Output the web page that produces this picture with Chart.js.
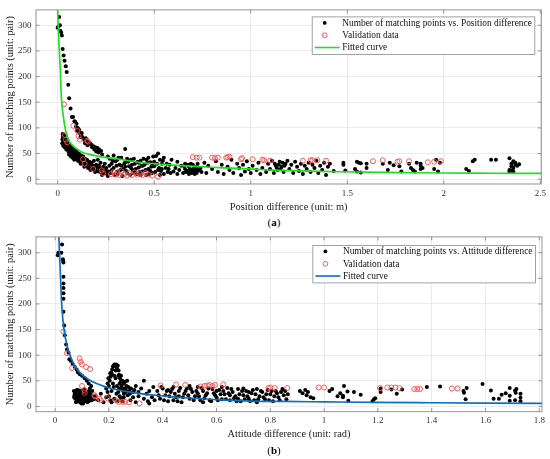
<!DOCTYPE html>
<html>
<head>
<meta charset="utf-8">
<script src="https://cdn.jsdelivr.net/npm/chart.js@4.4.1/dist/chart.umd.min.js"></script>
<style>
  html,body{margin:0;padding:0;background:#fff;}
  #wrap{position:relative;width:550px;height:459px;overflow:hidden;}
  canvas{position:absolute;left:0;}
  .lab{position:absolute;left:0;width:548px;text-align:center;font-family:'Liberation Serif',serif;font-size:11px;line-height:14px;color:#000;}
</style>
</head>
<body>
<div id="wrap">
  <canvas id="ca" width="550" height="215" style="top:0"></canvas>
  <div class="lab" style="top:215px">(<b>a</b>)</div>
  <canvas id="cb" width="550" height="232" style="top:227px"></canvas>
  <div class="lab" style="top:443px">(<b>b</b>)</div>
</div>
<script>
// ---------- tick labels ----------
const posTicks = [0, 0.5, 1, 1.5, 2, 2.5];
const attTicks = [0, 0.2, 0.4, 0.6, 0.8, 1, 1.2, 1.4, 1.6, 1.8];
const countTicks = [0, 50, 100, 150, 200, 250, 300];

// ---------- (a) position difference ----------
const posMatch = [
 [0.000,295],[0.005,298],[0.008,316],[0.012,300],[0.015,289],[0.018,286],[0.022,280],[0.026,254],[0.031,241],[0.036,231],
 [0.042,220],[0.047,209],[0.055,184],[0.060,158],[0.067,138],[0.074,121],[0.080,121],[0.087,113],[0.091,112],[0.098,108],
 [0.105,100],[0.109,94],[0.113,90],[0.120,87],[0.128,82],[0.137,77],[0.150,74],[0.162,72],[0.175,67],[0.185,64],
 [0.195,62],[0.207,61],[0.215,58],[0.225,55],[0.350,59],
 [0.095,102],[0.100,95],[0.112,96],[0.118,82],[0.125,90],[0.132,80],[0.142,70],[0.146,80],[0.155,66],[0.168,70],
 [0.178,62],[0.190,58],[0.200,54],[0.212,52],[0.230,48],
 [0.025,78],[0.027,82],[0.028,72],[0.030,86],[0.032,75],[0.033,68],[0.035,80],[0.037,71],[0.038,64],[0.040,77],
 [0.042,84],[0.044,69],[0.046,62],[0.048,74],[0.050,66],[0.052,58],[0.055,70],[0.058,61],[0.060,55],[0.063,65],
 [0.066,52],[0.070,58],[0.073,49],[0.077,56],[0.080,46],[0.084,52],[0.088,43],[0.092,50],[0.096,40],[0.100,47],
 [0.104,38],[0.108,44],[0.112,35],[0.117,42],[0.121,33],[0.126,39],[0.130,30],[0.135,36],[0.140,28],[0.145,34],
 [0.150,26],[0.156,31],[0.162,23],[0.168,29],[0.174,21],[0.180,27],[0.186,19],[0.192,25],[0.198,17],[0.205,23],
 [0.212,15],[0.218,21],[0.225,13],[0.232,19],[0.240,11],[0.248,17],[0.256,10],[0.264,15],
 [0.024,70],[0.026,88],[0.029,65],[0.031,79],[0.034,84],[0.036,62],[0.039,73],[0.041,66],[0.043,80],[0.045,58],
 [0.047,70],[0.049,78],[0.051,62],[0.053,72],[0.056,54],[0.057,66],[0.059,48],[0.062,60],[0.064,50],[0.067,64],
 [0.069,44],[0.071,54],[0.075,62],[0.078,42],[0.082,58],[0.086,38],[0.089,54],[0.094,46],[0.098,55],[0.102,42],
 [0.106,36],[0.110,50],[0.114,40],[0.119,30],[0.123,46],[0.128,35],[0.133,44],[0.138,24],[0.142,40],[0.147,30],
 [0.152,38],[0.158,22],[0.164,34],[0.170,18],[0.176,32],[0.182,24],[0.188,36],[0.194,14],[0.200,28],[0.208,38],
 [0.214,26],[0.222,32],[0.230,8],[0.236,24],[0.244,30],[0.252,22],[0.260,6],[0.268,26],[0.275,12],[0.285,36],
 [0.295,8],[0.305,26],[0.315,42],[0.325,18],[0.335,6],[0.345,30],[0.355,16],[0.365,34],[0.375,8],[0.385,28],
 [0.395,40],[0.405,20],[0.415,34],[0.425,14],[0.435,26],[0.445,40],[0.455,18],[0.465,32],[0.475,10],[0.485,24],
 [0.495,44],[0.505,14],[0.515,30],[0.525,22],[0.535,16],[0.545,36],[0.565,30],[0.575,20],[0.585,12],
 [0.27,40],[0.28,30],[0.29,22],[0.30,35],[0.31,15],[0.32,28],[0.33,42],[0.34,20],[0.35,33],[0.36,12],
 [0.37,25],[0.38,38],[0.39,18],[0.40,30],[0.41,10],[0.42,23],[0.43,36],[0.44,15],[0.45,28],[0.46,8],
 [0.47,20],[0.48,33],[0.49,12],[0.50,25],[0.51,45],[0.52,18],[0.53,38],[0.54,30],[0.55,42],[0.55,10],
 [0.56,22],[0.57,14],[0.26,44],[0.29,46],[0.31,38],[0.33,26],[0.36,40],[0.38,22],[0.40,17],[0.42,32],
 [0.44,26],[0.46,38],[0.48,16],[0.50,34],[0.53,8],[0.54,20],[0.52,50],[0.49,30],[0.47,42],[0.43,8],
 [0.39,12],[0.35,24],[0.31,9],[0.28,18],
 [0.60,15],[0.61,22],[0.62,10],[0.63,18],[0.64,26],[0.65,12],[0.66,20],[0.67,16],[0.68,24],[0.68,10],
 [0.69,18],[0.70,14],[0.70,28],[0.71,20],[0.72,12],[0.72,24],[0.73,17],[0.74,22],[0.66,30],[0.62,34],
 [0.655,25],[0.665,14],[0.675,28],[0.685,20],[0.695,12],[0.705,24],[0.715,16],[0.725,30],[0.735,20],[0.745,14],
 [0.690,30],[0.700,18],[0.710,10],[0.680,16],[0.720,20],
 [0.58,28],[0.59,38],[0.76,32],[0.77,12],[0.78,26],[0.80,20],[0.82,35],[0.83,14],[0.85,28],[0.86,10],
 [0.88,24],[0.89,18],[0.90,38],[0.91,12],[0.93,30],[0.94,22],[0.95,8],[0.96,28],[0.97,15],[0.98,35],
 [0.99,20],[1.00,12],[1.01,26],[1.03,18],[1.04,32],[1.05,10],[1.06,22],[1.08,14],[1.09,30],[1.10,20],
 [1.11,36],[1.12,12],[1.13,26],[1.14,18],[1.15,34],[1.16,24],[1.17,14],[1.18,30],[1.19,36],[1.20,20],
 [1.21,28],[1.22,12],[1.23,34],[1.24,24],[1.25,16],[1.26,30],[1.27,10],[1.28,26],[1.29,20],[1.30,32],
 [1.31,14],[1.32,28],[1.33,22],[1.34,36],[1.35,12],[1.36,26],[1.37,18],[1.38,32],[1.39,8],[1.40,24],
 [1.41,30],[1.43,16],[1.125,30],[1.135,22],[1.145,28],[1.155,20],[1.165,32],[1.175,26],
 [1.48,28],[1.48,32],[1.49,17],[1.54,20],[1.55,34],[1.56,32],[1.55,15],[1.57,13],[1.57,31],[1.60,22],
 [1.60,30],[1.684,30],[1.71,18],[1.72,32],[1.74,27],[1.77,25],[1.78,15],[1.82,30],[1.83,22],[1.84,18],
 [1.85,15],[1.86,32],[1.88,20],[1.88,26],[1.88,30],[1.89,22],[1.96,38],[1.95,20],[1.97,15],[1.98,32],
 [2.116,20],[2.13,16],[2.15,35],[2.16,38],[2.245,38],[2.27,38],[2.34,41],[2.34,15],[2.34,18],[2.35,25],
 [2.35,30],[2.36,35],[2.36,22],[2.37,28],[2.37,32],[2.38,26],[2.39,29],[2.35,17],[2.36,15]
];
const posValid = [
 [0.033,146],[0.081,104],[0.103,94],[0.108,84],[0.115,77],[0.153,75],[0.157,73],[0.038,86],[0.043,77],[0.050,72],
 [0.132,39],[0.140,30],[0.184,20],[0.228,17],[0.235,12],
 [0.276,10],[0.29,14],[0.30,9],[0.31,12],[0.32,8],[0.33,15],[0.345,10],[0.36,7],[0.37,12],[0.385,8],
 [0.40,13],[0.41,9],[0.425,11],[0.44,8],[0.455,12],[0.47,9],[0.49,7],[0.52,5],
 [0.70,43],[0.72,42],[0.735,42],[0.80,42],[0.815,41],[0.83,42],[0.873,42],[0.88,43],[0.89,44],[0.95,39],
 [0.955,41],[1.01,39],[1.06,38],[1.07,37],[1.10,36],[1.27,36],[1.31,37],[1.32,37],[1.345,37],[1.39,36],
 [1.633,35],[1.684,37],[1.76,34],[1.77,35],[1.82,35],[1.917,33],[1.95,34],[1.985,35]
];
const posFit = [
 [0.000,330],[0.003,300],[0.008,256],[0.014,212],[0.019,162],[0.029,124],[0.043,92],[0.060,74],[0.080,65],[0.103,58],
 [0.130,52],[0.164,48.5],[0.22,44],[0.319,39],[0.42,33],[0.526,29.6],[0.64,26.5],[0.736,24.5],[0.86,22],[0.995,20],
 [1.124,17.5],[1.3,15.8],[1.469,14.5],[1.7,13.2],[1.987,12],[2.25,11.6],[2.51,11.2]
];

// ---------- (b) attitude difference ----------
const attMatch = [
 [0.010,295],[0.012,300],[0.023,300],[0.026,316],[0.029,287],[0.030,284],[0.031,281],[0.031,253],[0.031,240],[0.031,231],
 [0.031,221],[0.031,210],[0.031,185],[0.034,158],[0.036,139],[0.041,121],[0.044,111],[0.050,105],[0.053,92],[0.058,89],
 [0.065,83],[0.073,77],[0.080,72],[0.085,67],[0.092,63],[0.100,60],[0.110,55],[0.118,50],[0.125,45],
 [0.070,30],[0.072,22],[0.075,15],[0.077,28],[0.080,10],[0.082,20],[0.085,32],[0.087,12],[0.090,25],[0.092,8],
 [0.094,18],[0.097,30],[0.099,14],[0.101,22],[0.104,6],[0.106,27],[0.108,16],[0.110,33],[0.112,11],[0.115,24],
 [0.117,19],[0.120,8],[0.122,29],[0.124,14],[0.127,22],[0.129,35],[0.131,17],[0.134,40],[0.136,12],
 [0.071,18],[0.074,26],[0.078,8],[0.081,32],[0.084,14],[0.086,24],[0.089,18],[0.091,30],[0.093,12],[0.096,24],
 [0.098,6],[0.102,16],[0.105,30],[0.107,10],[0.111,20],[0.113,28],[0.116,14],[0.119,25],[0.121,18],[0.125,10],
 [0.128,28],[0.132,24],[0.138,30],[0.140,20],[0.145,14],
 [0.15,20],[0.16,12],[0.17,25],[0.18,8],[0.19,18],[0.195,28],
 [0.200,40],[0.203,50],[0.206,58],[0.209,66],[0.212,72],[0.215,78],[0.218,80],[0.221,82],[0.224,78],[0.227,82],
 [0.230,75],[0.233,80],[0.236,70],[0.238,62],[0.241,55],[0.244,48],[0.247,40],[0.250,35],[0.253,30],[0.256,25],
 [0.21,30],[0.215,45],[0.22,60],[0.225,55],[0.23,40],[0.235,28],[0.24,20],[0.245,15],[0.25,10],[0.255,18],
 [0.26,35],[0.262,28],[0.265,40],[0.27,22],[0.275,30],[0.2,20],[0.205,12],[0.21,8],[0.22,15],[0.228,25],
 [0.232,10],[0.238,35],[0.24,45],[0.218,38],
 [0.19,35],[0.195,45],[0.198,55],[0.205,65],[0.212,62],[0.225,70],[0.235,60],[0.245,60],[0.25,50],[0.255,45],
 [0.26,48],[0.265,30],[0.268,50],[0.272,38],[0.278,25],[0.282,35],[0.29,18],[0.295,32],[0.31,28],
 [0.28,12],[0.29,28],[0.30,8],[0.31,20],[0.32,35],[0.33,15],[0.33,50],[0.34,25],[0.345,10],[0.35,30],
 [0.36,18],[0.365,38],[0.37,12],[0.35,6],[0.30,40],
 [0.38,30],[0.39,15],[0.40,35],[0.41,22],[0.42,10],[0.43,28],[0.44,38],[0.45,18],[0.46,30],[0.47,8],
 [0.48,25],[0.49,35],[0.50,15],[0.51,28],[0.52,20],[0.53,38],[0.54,12],[0.55,30],[0.56,22],[0.57,35],
 [0.58,10],[0.59,26],[0.60,18],[0.61,32],[0.62,14],[0.63,24],[0.64,36],[0.65,12],[0.66,28],[0.67,20],
 [0.68,34],[0.69,10],[0.70,22],[0.71,30],[0.72,15],[0.73,26],[0.74,12],[0.75,34],[0.76,20],[0.77,28],
 [0.78,14],[0.79,32],[0.80,24],[0.81,10],[0.82,30],[0.83,18],[0.84,28],[0.845,34],[0.85,22],[0.86,14],
 [0.42,32],[0.46,20],[0.50,40],[0.55,8],[0.60,30],[0.65,22],[0.70,35],[0.75,8],[0.44,12],[0.53,26],
 [0.62,38],[0.68,15],[0.72,28],
 [0.385,22],[0.395,38],[0.405,12],[0.415,30],[0.425,20],[0.435,34],[0.445,25],[0.455,10],[0.465,36],[0.475,18],
 [0.485,30],[0.495,22],[0.505,34],[0.515,12],[0.525,30],[0.535,20],[0.545,36],[0.555,16],[0.565,26],[0.575,12],
 [0.585,34],[0.595,22],[0.605,12],[0.615,24],[0.625,30],[0.635,14],[0.645,26],[0.655,34],[0.665,16],[0.675,10],
 [0.685,24],[0.695,30],[0.705,14],[0.715,20],[0.725,10],[0.735,32],[0.745,24],[0.755,14],[0.765,30],[0.775,18],
 [0.785,24],[0.795,12],[0.805,30],[0.815,20],[0.825,26],[0.835,12],[0.855,30],[0.865,24],
 [0.91,30],[0.92,26],[0.93,32],[0.935,22],[0.94,28],[0.95,18],[0.96,16],[1.02,30],[1.03,34],[1.05,20],
 [1.06,26],[1.07,18],
 [1.074,40],[1.07,21],[1.087,29],[1.09,11],[1.111,28],[1.136,23],[1.18,10],[1.185,14],[1.19,16],[1.21,28],
 [1.21,35],[1.25,33],[1.27,25],[1.29,33],[1.382,38],[1.431,39],[1.518,30],[1.52,27],[1.53,36],[1.526,14],
 [1.589,44],[1.62,31],[1.63,15],[1.65,15],[1.66,23],[1.675,26],[1.69,36],[1.69,21],[1.69,11],[1.71,31],
 [1.712,27],[1.715,34],[1.71,12],[1.73,25],[1.73,17],[1.73,10]
];
const attValid = [
 [0.031,146],[0.044,104],[0.063,75],[0.091,94],[0.095,87],[0.100,82],[0.115,77],[0.130,73],[0.100,40],[0.108,32],
 [0.110,27],[0.146,22],[0.148,20],[0.165,15],[0.170,12],[0.195,16],[0.227,12],[0.237,9],[0.250,9],[0.260,9],
 [0.275,8],[0.314,6],[0.392,41],[0.45,43],[0.484,42],[0.54,39],[0.555,40],[0.565,41],[0.575,42],[0.585,40],
 [0.595,42],[0.625,43],[0.793,36],[0.80,37],[0.816,36],[0.863,36],[0.98,37],[1.0,37],[1.208,36],[1.235,37],
 [1.25,37],[1.265,37],[1.28,36],[1.335,34],[1.346,34],[1.357,34],[1.475,35],[1.496,35]
];
const attFit = [
 [0.0138,334],[0.0186,272],[0.0235,209],[0.0286,171],[0.036,140],[0.047,114],[0.066,86],[0.09,67],[0.14,48],[0.202,36],
 [0.302,26],[0.413,20],[0.478,17],[0.6,13.5],[0.726,10.6],[0.85,9.8],[1.0,9],[1.19,8],[1.4,7.3],[1.6,6.7],[1.81,6.2]
];

// ---------- rendering ----------
const FONT = "'Liberation Serif', 'Times New Roman', serif";
const toPts = arr => arr.map(p => ({x: p[0], y: p[1]}));

const framePlugin = {
  id: 'frame',
  afterDraw(chart) {
    const {ctx, chartArea: a, scales: {x, y}} = chart;
    ctx.save();
    ctx.strokeStyle = '#8a8a8a';
    ctx.lineWidth = 0.9;
    ctx.strokeRect(a.left, a.top, a.right - a.left, a.bottom - a.top);
    const L = 3.5;
    ctx.beginPath();
    x.ticks.forEach(t => {
      const p = x.getPixelForValue(t.value);
      ctx.moveTo(p, a.bottom); ctx.lineTo(p, a.bottom - L);
      ctx.moveTo(p, a.top); ctx.lineTo(p, a.top + L);
    });
    y.ticks.forEach(t => {
      const p = y.getPixelForValue(t.value);
      ctx.moveTo(a.left, p); ctx.lineTo(a.left + L, p);
      ctx.moveTo(a.right, p); ctx.lineTo(a.right - L, p);
    });
    ctx.stroke();

    // legend inside the axes (top-right)
    const ds = chart.data.datasets;
    const order = [2, 1, 0];
    ctx.font = "9.4px " + FONT;
    let tw = 0;
    order.forEach(i => { tw = Math.max(tw, ctx.measureText(ds[i].label).width); });
    const opt = chart.options.plugins.frame;
    const w = tw + 33, h = 37.5;
    const lx = a.right - 6.5 - w, ly = a.top + opt.legendTop;
    ctx.fillStyle = '#fff';
    ctx.fillRect(lx, ly, w, h);
    ctx.strokeStyle = '#8a8a8a';
    ctx.lineWidth = 0.8;
    ctx.strokeRect(lx, ly, w, h);
    ctx.textBaseline = 'middle';
    ctx.textAlign = 'left';
    order.forEach((i, r) => {
      const cy = ly + 6 + r * 12.3;
      const d = ds[i];
      if (i === 0) {
        ctx.strokeStyle = d.borderColor; ctx.lineWidth = 1.6;
        ctx.beginPath(); ctx.moveTo(lx + 2.5, cy); ctx.lineTo(lx + 27.5, cy); ctx.stroke();
      } else if (i === 1) {
        ctx.strokeStyle = d.pointBorderColor; ctx.lineWidth = 0.9;
        ctx.beginPath(); ctx.arc(lx + 12.5, cy, 2.4, 0, Math.PI * 2); ctx.stroke();
      } else {
        ctx.fillStyle = '#000';
        ctx.beginPath(); ctx.arc(lx + 12.5, cy, 1.9, 0, Math.PI * 2); ctx.fill();
      }
      ctx.fillStyle = '#111';
      ctx.fillText(d.label, lx + 30, cy + 0.5);
    });
    ctx.restore();
  }
};

function makeChart(id, cfg) {
  return new Chart(document.getElementById(id), {
    type: 'scatter',
    data: {
      datasets: [
        { label: 'Fitted curve', data: toPts(cfg.fit), showLine: true, borderColor: cfg.lineColor,
          borderWidth: 1.7, pointRadius: 0, pointHoverRadius: 0, cubicInterpolationMode: 'monotone', fill: false },
        { label: 'Validation data', data: toPts(cfg.valid), pointRadius: 2.5, pointBorderWidth: 0.9,
          pointBackgroundColor: 'rgba(0,0,0,0)', pointBorderColor: '#ff4a4a', borderColor: '#ff4a4a', showLine: false },
        { label: cfg.matchLabel, data: toPts(cfg.match), pointRadius: 2.0, pointBorderWidth: 0,
          pointBackgroundColor: '#000', pointBorderColor: '#000', showLine: false }
      ]
    },
    options: {
      responsive: false,
      animation: false,
      events: [],
      layout: { padding: { left: 0, right: 8, top: 4, bottom: cfg.padBottom } },
      plugins: { legend: { display: false }, tooltip: { enabled: false }, frame: { legendTop: cfg.legendTop } },
      scales: {
        x: {
          type: 'linear', min: cfg.xmin, max: cfg.xmax,
          afterBuildTicks: s => { s.ticks = cfg.xticks.map(v => ({value: v})); },
          afterFit: s => { s.height = 31; },
          ticks: { font: { family: FONT, size: 9 }, color: '#333', padding: 4, maxRotation: 0, callback: v => String(v) },
          grid: { color: '#e6e6e6', lineWidth: 0.8, drawTicks: false },
          border: { display: false },
          title: { display: true, text: cfg.xtitle, font: { family: FONT, size: 10.4 }, color: '#222',
                   padding: { top: 0, bottom: cfg.titlePadB } }
        },
        y: {
          type: 'linear', min: cfg.ymin, max: cfg.ymax,
          afterBuildTicks: s => { s.ticks = countTicks.map(v => ({value: v})); },
          afterFit: s => { s.width = 36; },
          ticks: { font: { family: FONT, size: 9 }, color: '#333', padding: 4.5, callback: v => String(v) },
          grid: { color: '#e6e6e6', lineWidth: 0.8, drawTicks: false },
          border: { display: false },
          title: { display: true, text: 'Number of matching points (unit: pair)', font: { family: FONT, size: 10.4 },
                   color: '#222', padding: { top: 3.8, bottom: 0 } }
        }
      }
    },
    plugins: [framePlugin]
  });
}

makeChart('ca', {
  fit: posFit, valid: posValid, match: posMatch, lineColor: '#1ee01e',
  matchLabel: 'Number of matching points vs. Position difference',
  xmin: -0.112, xmax: 2.505, ymin: -9.4, ymax: 330, xticks: posTicks,
  xtitle: 'Position difference (unit: m)', padBottom: 0, titlePadB: 1.8, legendTop: 7
});
makeChart('cb', {
  fit: attFit, valid: attValid, match: attMatch, lineColor: '#0a6fc2',
  matchLabel: 'Number of matching points vs. Attitude difference',
  xmin: -0.071, xmax: 1.81, ymin: -10.2, ymax: 330.8, xticks: attTicks,
  xtitle: 'Attitude difference (unit: rad)', padBottom: 16.3, titlePadB: 2.5, legendTop: 8.5
});
</script>
</body>
</html>
